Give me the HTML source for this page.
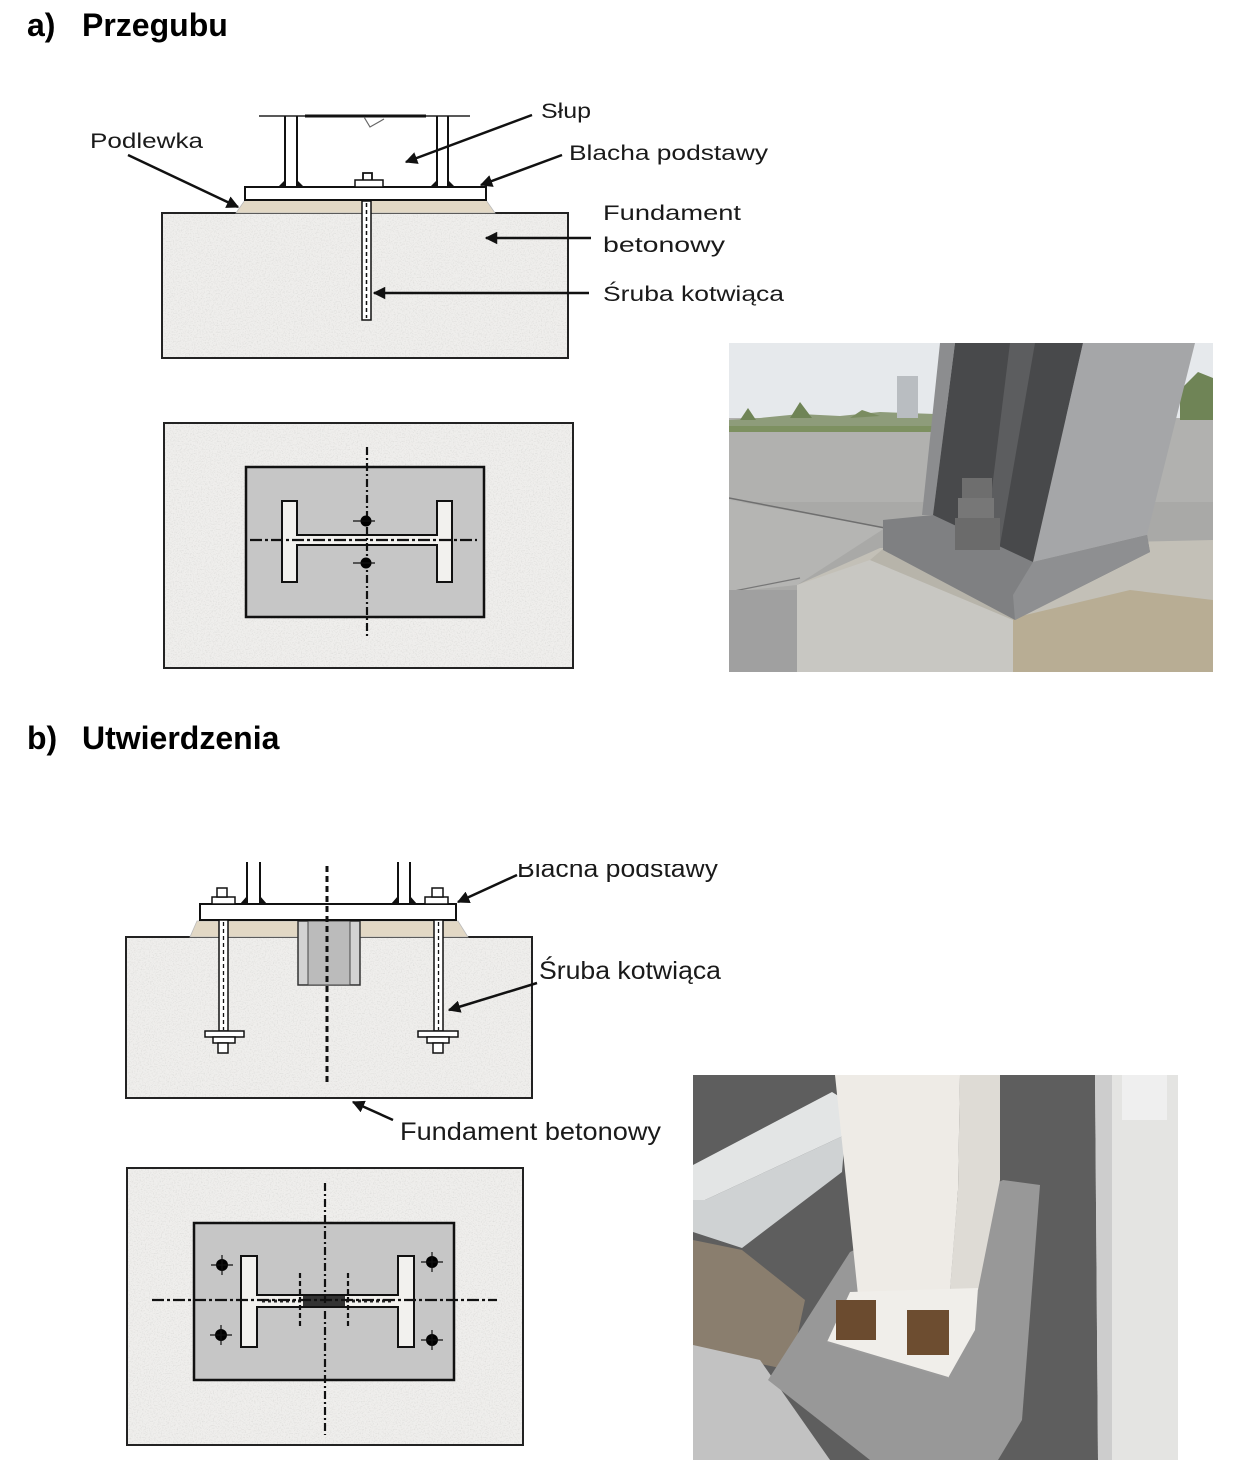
<!DOCTYPE html>
<html><head><meta charset="utf-8"><style>
html,body{margin:0;padding:0;background:#fff;}
svg{display:block;}
</style></head><body>
<svg xmlns="http://www.w3.org/2000/svg" width="1238" height="1480" viewBox="0 0 1238 1480">
<defs>
<marker id="ah" viewBox="0 0 10 10" refX="9" refY="5" markerWidth="5" markerHeight="5" orient="auto" markerUnits="strokeWidth"><path d="M0,0 L10,5 L0,10 z" fill="#111"/></marker>
<filter id="spk" x="0" y="0" width="100%" height="100%">
<feTurbulence type="fractalNoise" baseFrequency="0.75" numOctaves="3" seed="5" result="n"/>
<feColorMatrix in="n" type="matrix" values="0 0 0 0 0.62  0 0 0 0 0.62  0 0 0 0 0.60  2.6 0 0 0 -1.25" result="s"/>
<feComposite in="s" in2="SourceGraphic" operator="in"/>
</filter>
<clipPath id="cp1"><rect x="729" y="343" width="484" height="329"/></clipPath>
<clipPath id="cp2"><rect x="693" y="1075" width="485" height="385"/></clipPath>
<clipPath id="cpb"><rect x="0" y="864" width="1238" height="60"/></clipPath>
</defs>
<rect width="1238" height="1480" fill="#fff"/>

<!-- Headings -->
<g font-family="'Liberation Sans', Arial, sans-serif" font-weight="bold" font-size="32" fill="#000">
<text x="27" y="36">a)</text>
<text x="82" y="36">Przegubu</text>
<text x="27" y="749">b)</text>
<text x="82" y="749">Utwierdzenia</text>
</g>

<!-- ===== Section a: side view ===== -->
<rect x="162" y="213" width="406" height="145" fill="#efeeec"/>
<rect x="162" y="213" width="406" height="145" fill="#fff" filter="url(#spk)" opacity="0.55"/>
<rect x="162" y="213" width="406" height="145" fill="none" stroke="#222" stroke-width="2"/>
<polygon points="245,200 486,200 495,213 236,213" fill="#e2d8c5" stroke="#bbb" stroke-width="0.8"/>
<rect x="245" y="187" width="241" height="13" fill="#fff" stroke="#111" stroke-width="2"/>
<!-- column -->
<line x1="259" y1="116" x2="470" y2="116" stroke="#222" stroke-width="1.5"/>
<line x1="305" y1="116" x2="426" y2="116" stroke="#111" stroke-width="3"/>
<polyline points="364,117 370,127 384,119" fill="none" stroke="#666" stroke-width="1.2"/>
<line x1="285" y1="116" x2="285" y2="187" stroke="#111" stroke-width="2"/>
<line x1="297" y1="116" x2="297" y2="187" stroke="#111" stroke-width="2"/>
<line x1="437" y1="116" x2="437" y2="187" stroke="#111" stroke-width="2"/>
<line x1="448" y1="116" x2="448" y2="187" stroke="#111" stroke-width="2"/>
<g fill="#111">
<polygon points="278,187 285,187 285,180"/><polygon points="297,187 304,187 297,180"/>
<polygon points="430,187 437,187 437,180"/><polygon points="448,187 455,187 448,180"/>
</g>
<rect x="355" y="180" width="28" height="7" fill="#fff" stroke="#111" stroke-width="1.5"/>
<path d="M363,180 V173 H372 V180" fill="none" stroke="#111" stroke-width="1.8"/>
<!-- anchor rod -->
<rect x="362" y="201" width="9" height="119" fill="#fff" stroke="#111" stroke-width="1.5"/>
<line x1="366.5" y1="203" x2="366.5" y2="318" stroke="#111" stroke-width="1.5" stroke-dasharray="4 3"/>
<!-- arrows a -->
<g stroke="#111" stroke-width="2.5" marker-end="url(#ah)" fill="none">
<line x1="532" y1="115" x2="406" y2="162"/>
<line x1="562" y1="155" x2="481" y2="185"/>
<line x1="128" y1="155" x2="238" y2="207"/>
<line x1="591" y1="238" x2="486" y2="238"/>
<line x1="589" y1="293" x2="374" y2="293"/>
</g>
<g font-family="'Liberation Sans', Arial, sans-serif" font-size="21" fill="#1a1a1a">
<text x="541" y="118" textLength="50" lengthAdjust="spacingAndGlyphs">Słup</text>
<text x="90" y="148" textLength="113" lengthAdjust="spacingAndGlyphs">Podlewka</text>
<text x="569" y="160" textLength="199" lengthAdjust="spacingAndGlyphs">Blacha podstawy</text>
<text x="603" y="220" textLength="138" lengthAdjust="spacingAndGlyphs">Fundament</text>
<text x="603" y="252" textLength="122" lengthAdjust="spacingAndGlyphs">betonowy</text>
<text x="603" y="301" textLength="181" lengthAdjust="spacingAndGlyphs">Śruba kotwiąca</text>
</g>

<!-- ===== Section a: plan view ===== -->
<rect x="164" y="423" width="409" height="245" fill="#efeeec"/>
<rect x="164" y="423" width="409" height="245" fill="#fff" filter="url(#spk)" opacity="0.55"/>
<rect x="164" y="423" width="409" height="245" fill="none" stroke="#222" stroke-width="2"/>
<rect x="246" y="467" width="238" height="150" fill="#c6c6c6" stroke="#111" stroke-width="2.5"/>
<path d="M282,501 H297 V535 H437 V501 H452 V582 H437 V545 H297 V582 H282 Z" fill="#f2f1ee" stroke="#111" stroke-width="2"/>
<line x1="367" y1="447" x2="367" y2="637" stroke="#111" stroke-width="2.2" stroke-dasharray="8 3 2 3"/>
<line x1="250" y1="540" x2="477" y2="540" stroke="#111" stroke-width="2.2" stroke-dasharray="12 3 3 3"/>
<g fill="#000">
<circle cx="366" cy="521" r="5.5"/><circle cx="366" cy="563" r="5.5"/>
</g>
<g stroke="#111" stroke-width="1.2">
<line x1="353" y1="521" x2="375" y2="521"/><line x1="353" y1="563" x2="375" y2="563"/>
</g>

<!-- Photo 1 -->
<g clip-path="url(#cp1)">
<rect x="729" y="343" width="484" height="329" fill="#a9a9a7"/>
<rect x="729" y="343" width="484" height="75" fill="#e6e9ec"/>
<rect x="729" y="418" width="484" height="84" fill="#b1b1af"/>
<polygon points="729,420 760,418 800,414 840,416 880,412 935,414 935,432 729,432" fill="#8e9c7a"/>
<polygon points="740,420 748,408 756,420" fill="#6f8456"/>
<polygon points="790,418 800,402 812,418" fill="#6f8456"/>
<polygon points="850,418 862,410 880,416" fill="#7a8c60"/>
<rect x="729" y="426" width="210" height="6" fill="#7d9060"/>
<polygon points="1180,390 1198,372 1213,378 1213,420 1180,420" fill="#6f8456"/>
<rect x="897" y="376" width="21" height="42" fill="#b9bdc1"/>
<polygon points="729,500 885,528 797,585 729,592" fill="#b5b5b3"/>
<line x1="729" y1="498" x2="885" y2="528" stroke="#6f6f6f" stroke-width="1.5"/>
<line x1="729" y1="592" x2="800" y2="578" stroke="#777" stroke-width="1.2"/>
<rect x="729" y="590" width="70" height="82" fill="#a0a0a0"/>
<polygon points="797,585 880,548 1213,540 1213,672 797,672" fill="#c3c0b7"/>
<polygon points="797,585 870,560 1013,620 1013,672 797,672" fill="#c8c7c2"/>
<polygon points="870,560 884,548 1013,600 1013,620" fill="#b7b4aa"/>
<polygon points="1013,618 1130,590 1213,600 1213,672 1013,672" fill="#b8ad94"/>
<polygon points="1083,343 1195,343 1147,535 1033,562" fill="#a5a6a8"/>
<polygon points="940,343 955,343 933,515 922,515" fill="#8c8d8f"/>
<polygon points="955,343 1083,343 1033,562 990,558 933,515" fill="#48494b"/>
<polygon points="1010,343 1035,343 1000,545 985,545" fill="#5c5d5f"/>
<polygon points="883,520 933,515 1033,562 1147,535 1150,552 1015,620 883,550" fill="#7f8082"/>
<polygon points="1033,562 1147,535 1150,552 1015,620 1013,595" fill="#8e8f91"/>
<rect x="962" y="478" width="30" height="20" fill="#6e6e6e"/>
<rect x="958" y="498" width="36" height="20" fill="#777"/>
<rect x="955" y="518" width="45" height="32" fill="#6b6b6b"/>
</g>

<!-- ===== Section b: side view ===== -->
<rect x="126" y="937" width="406" height="161" fill="#efeeec"/>
<rect x="126" y="937" width="406" height="161" fill="#fff" filter="url(#spk)" opacity="0.55"/>
<rect x="126" y="937" width="406" height="161" fill="none" stroke="#222" stroke-width="2"/>
<polygon points="197,921 458,921 468,937 190,937" fill="#e2d8c5" stroke="#bbb" stroke-width="0.8"/>
<rect x="298" y="921" width="62" height="64" fill="#d2d2d2" stroke="#333" stroke-width="1.5"/>
<rect x="308" y="921" width="42" height="64" fill="#bbbbbb" stroke="#444" stroke-width="1"/>
<rect x="200" y="904" width="256" height="16" fill="#fff" stroke="#111" stroke-width="2"/>
<line x1="327" y1="866" x2="327" y2="1082" stroke="#111" stroke-width="3" stroke-dasharray="6 4"/>
<!-- flanges -->
<g stroke="#111" stroke-width="2">
<line x1="247" y1="862" x2="247" y2="904"/><line x1="260" y1="862" x2="260" y2="904"/>
<line x1="398" y1="862" x2="398" y2="904"/><line x1="410" y1="862" x2="410" y2="904"/>
</g>
<g fill="#111">
<polygon points="240,904 247,904 247,896"/><polygon points="260,904 267,904 260,896"/>
<polygon points="391,904 398,904 398,896"/><polygon points="410,904 417,904 410,896"/>
</g>
<!-- top bolts -->
<g fill="#fff" stroke="#111" stroke-width="1.5">
<rect x="212" y="897" width="23" height="7"/><rect x="217" y="888" width="10" height="9"/>
<rect x="425" y="897" width="23" height="7"/><rect x="432" y="888" width="11" height="9"/>
<rect x="219" y="920" width="9" height="111"/>
<rect x="434" y="920" width="9" height="111"/>
<rect x="205" y="1031" width="39" height="6"/><rect x="213" y="1037" width="22" height="6"/><rect x="218" y="1043" width="10" height="10"/>
<rect x="418" y="1031" width="40" height="6"/><rect x="427" y="1037" width="22" height="6"/><rect x="433" y="1043" width="10" height="10"/>
</g>
<g stroke="#111" stroke-width="1.3" stroke-dasharray="4 3">
<line x1="223.5" y1="922" x2="223.5" y2="1030"/>
<line x1="438.5" y1="922" x2="438.5" y2="1030"/>
</g>
<!-- arrows b -->
<g stroke="#111" stroke-width="2.5" marker-end="url(#ah)" fill="none">
<line x1="517" y1="875" x2="458" y2="902"/>
<line x1="537" y1="983" x2="449" y2="1010"/>
<line x1="393" y1="1120" x2="353" y2="1102"/>
</g>
<g font-family="'Liberation Sans', Arial, sans-serif" font-size="25" fill="#1a1a1a">
<text x="517" y="877" textLength="201" lengthAdjust="spacingAndGlyphs" clip-path="url(#cpb)">Blacha podstawy</text>
<text x="539" y="979" textLength="182" lengthAdjust="spacingAndGlyphs">Śruba kotwiąca</text>
<text x="400" y="1140" textLength="261" lengthAdjust="spacingAndGlyphs">Fundament betonowy</text>
</g>

<!-- ===== Section b: plan view ===== -->
<rect x="127" y="1168" width="396" height="277" fill="#efeeec"/>
<rect x="127" y="1168" width="396" height="277" fill="#fff" filter="url(#spk)" opacity="0.55"/>
<rect x="127" y="1168" width="396" height="277" fill="none" stroke="#222" stroke-width="2"/>
<rect x="194" y="1223" width="260" height="157" fill="#c6c6c6" stroke="#111" stroke-width="2.5"/>
<path d="M241,1256 H257 V1295 H398 V1256 H414 V1347 H398 V1307 H257 V1347 H241 Z" fill="#f2f1ee" stroke="#111" stroke-width="2"/>
<line x1="262" y1="1301" x2="394" y2="1301" stroke="#222" stroke-width="3" stroke-dasharray="3 3"/>
<rect x="303" y="1296" width="42" height="10" fill="#333"/>
<g stroke="#111" stroke-width="2.2" stroke-dasharray="5 3">
<line x1="300" y1="1273" x2="300" y2="1328"/>
<line x1="348" y1="1273" x2="348" y2="1328"/>
</g>
<line x1="325" y1="1183" x2="325" y2="1435" stroke="#111" stroke-width="2.2" stroke-dasharray="8 3 2 3"/>
<line x1="152" y1="1300" x2="497" y2="1300" stroke="#111" stroke-width="2.2" stroke-dasharray="12 3 3 3"/>
<g fill="#000">
<circle cx="222" cy="1265" r="6"/><circle cx="221" cy="1335" r="6"/>
<circle cx="432" cy="1262" r="6"/><circle cx="432" cy="1340" r="6"/>
</g>
<g stroke="#111" stroke-width="1.2">
<line x1="211" y1="1265" x2="233" y2="1265"/><line x1="222" y1="1255" x2="222" y2="1275"/>
<line x1="210" y1="1335" x2="232" y2="1335"/><line x1="221" y1="1325" x2="221" y2="1345"/>
<line x1="421" y1="1262" x2="443" y2="1262"/><line x1="432" y1="1252" x2="432" y2="1272"/>
<line x1="421" y1="1340" x2="443" y2="1340"/><line x1="432" y1="1330" x2="432" y2="1350"/>
</g>

<!-- Photo 2 -->
<g clip-path="url(#cp2)">
<rect x="693" y="1075" width="485" height="385" fill="#5e5e5e"/>
<polygon points="693,1165 832,1092 845,1100 845,1135 705,1200 693,1200" fill="#e3e5e5"/>
<polygon points="693,1200 705,1200 845,1135 842,1172 742,1248 693,1232" fill="#cfd2d3"/>
<polygon points="693,1240 742,1250 805,1300 790,1370 693,1350" fill="#8a7e6e"/>
<polygon points="693,1345 760,1360 830,1460 693,1460" fill="#c2c2c2"/>
<polygon points="768,1380 850,1252 1003,1180 1040,1185 1022,1420 998,1460 870,1460" fill="#989898"/>
<polygon points="835,1075 960,1075 958,1190 950,1290 858,1295" fill="#eeebe6"/>
<polygon points="960,1075 1000,1075 1000,1180 978,1290 950,1290 958,1190" fill="#dedbd5"/>
<polygon points="827,1342 850,1292 978,1288 975,1330 948,1378" fill="#f0eeea"/>
<line x1="827" y1="1342" x2="948" y2="1378" stroke="#9a9a9a" stroke-width="2"/>
<rect x="836" y="1300" width="40" height="40" fill="#6b4b2f"/>
<rect x="907" y="1310" width="42" height="45" fill="#6d4d30"/>
<polygon points="1095,1075 1178,1075 1178,1460 1098,1460" fill="#e4e4e2"/>
<polygon points="1095,1075 1112,1075 1112,1460 1098,1460" fill="#cdcdcd"/>
<rect x="1122" y="1075" width="45" height="45" fill="#efefef"/>
</g>
</svg>
</body></html>
